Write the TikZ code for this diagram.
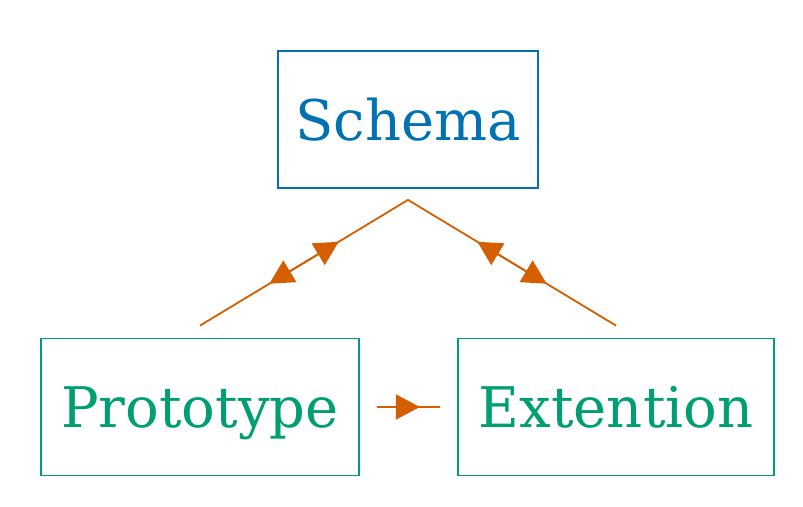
\documentclass[tikz,border=0pt]{standalone}
\usepackage{fontspec}
\setmainfont{DejaVu Serif}
\usetikzlibrary{calc,arrows.meta}
\definecolor{schemablue}{HTML}{0072B2}
\definecolor{protogreen}{HTML}{009E73}
\definecolor{linkorange}{HTML}{D55E00}
\tikzset{tri/.tip={Triangle[length=24pt,width=25pt]}}

\begin{document}
\begin{tikzpicture}[x=1pt,y=-1pt,
    box/.style={draw,line width=1.8pt,minimum height=137pt,inner sep=0pt,
        font=\fontsize{56}{64}\selectfont,text height=41pt,text depth=0pt},
    link/.style={linkorange,line width=1.8pt}]
    \useasboundingbox (0,0) rectangle (803,506);

    \node[box,schemablue,minimum width=260pt] (schema) at (408,119.5) {Schema};
    \node[box,protogreen,minimum width=318pt] (proto) at (200,407) {Prototype};
    \node[box,protogreen,minimum width=316pt] (ext) at (616,407) {Extention};

    \coordinate (top) at ($(schema.south)+(0,11)$);
    \coordinate (pn) at ($(proto.north)+(0,-12)$);
    \coordinate (en) at ($(ext.north)+(0,-12)$);
    \coordinate (pe) at ($(proto.east)+(17,0)$);
    \coordinate (ew) at ($(ext.west)+(-17,0)$);

    \draw[link] (pn) -- (top) -- (en) (pe) -- (ew);
    \draw[link,tri-tri] ($(pn)!1/3!(top)$) -- ($(pn)!2/3!(top)$);
    \draw[link,tri-tri] ($(top)!1/3!(en)$) -- ($(top)!2/3!(en)$);
    \draw[link,-tri] ($(pe)!0.3!(ew)$) -- ($(pe)!0.68!(ew)$);

\end{tikzpicture}
\end{document}
